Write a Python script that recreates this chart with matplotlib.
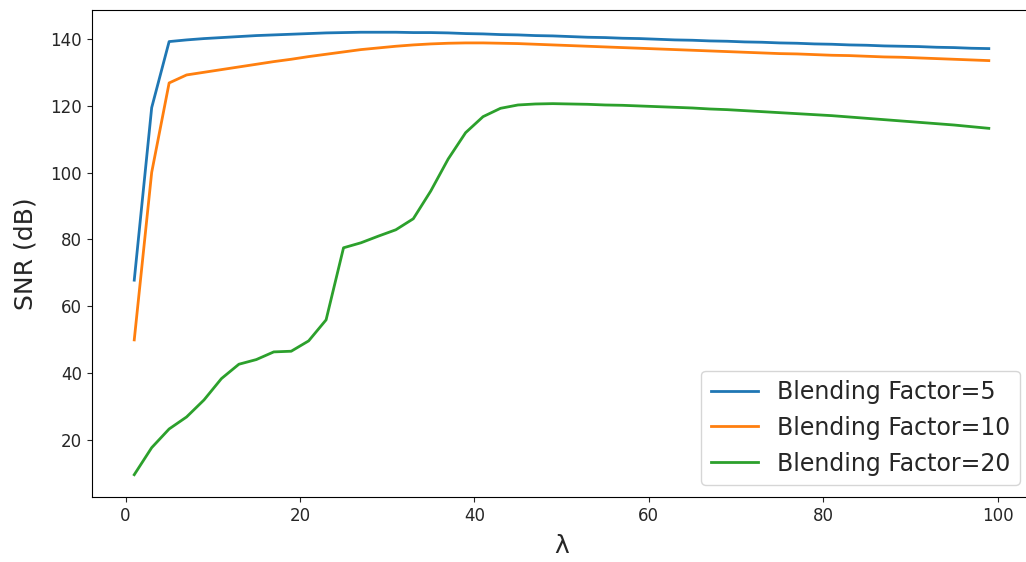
import numpy as np
import matplotlib
matplotlib.use("Agg")
import matplotlib.pyplot as plt

# lambda values (odd steps 1..99)
lam = list(range(1, 100, 2))

snr_bf5 = [67.8, 119.5, 139.3, 139.8, 140.2, 140.5, 140.8, 141.1, 141.3, 141.5,
           141.7, 141.9, 142.0, 142.1, 142.1, 142.1, 142.0, 142.0, 141.9, 141.7,
           141.6, 141.4, 141.3, 141.1, 141.0, 140.8, 140.6, 140.5, 140.3, 140.2,
           140.0, 139.8, 139.7, 139.5, 139.4, 139.2, 139.1, 138.9, 138.8, 138.6,
           138.5, 138.3, 138.2, 138.0, 137.9, 137.8, 137.6, 137.5, 137.3, 137.2]

snr_bf10 = [49.9, 100.1, 126.9, 129.3, 130.1, 130.9, 131.7, 132.5, 133.3, 134.0,
            134.8, 135.5, 136.2, 136.9, 137.4, 137.9, 138.3, 138.6, 138.8, 138.9,
            138.9, 138.8, 138.7, 138.5, 138.3, 138.1, 137.9, 137.7, 137.5, 137.3,
            137.1, 136.9, 136.7, 136.5, 136.3, 136.1, 135.9, 135.7, 135.6, 135.4,
            135.2, 135.1, 134.9, 134.7, 134.6, 134.4, 134.2, 134.0, 133.8, 133.6]

snr_bf20 = [9.5, 17.6, 23.2, 26.8, 31.9, 38.3, 42.6, 44.0, 46.3, 46.5,
            49.6, 55.9, 77.5, 79.0, 81.0, 82.9, 86.2, 94.5, 104.1, 112.0,
            116.8, 119.3, 120.3, 120.6, 120.7, 120.6, 120.5, 120.3, 120.2, 120.0,
            119.8, 119.6, 119.4, 119.1, 118.9, 118.6, 118.3, 118.0, 117.7, 117.4,
            117.1, 116.7, 116.3, 115.9, 115.5, 115.1, 114.7, 114.3, 113.8, 113.3]

series = [
    ("Blending Factor=5", snr_bf5),
    ("Blending Factor=10", snr_bf10),
    ("Blending Factor=20", snr_bf20),
]

plt.rcParams['text.color'] = '#262626'
plt.rcParams['xtick.color'] = '#262626'
plt.rcParams['ytick.color'] = '#262626'
plt.rcParams['axes.labelcolor'] = '#262626'

fig, ax = plt.subplots(figsize=(10.26, 5.62), dpi=100)
# the original is cropped on the right, so the axes run a bit past the edge
fig.subplots_adjust(left=0.0892, right=1.0054, top=0.982, bottom=0.116)

for label, vals in series:
    ax.plot(lam, vals, label=label, linewidth=2)

ax.set_xlabel("λ", fontsize=18, labelpad=7)
ax.set_ylabel("SNR (dB)", fontsize=18, labelpad=9)
ax.tick_params(labelsize=12)
ax.legend(loc="lower right", fontsize=17)

fig.savefig("out.png", dpi=100)
